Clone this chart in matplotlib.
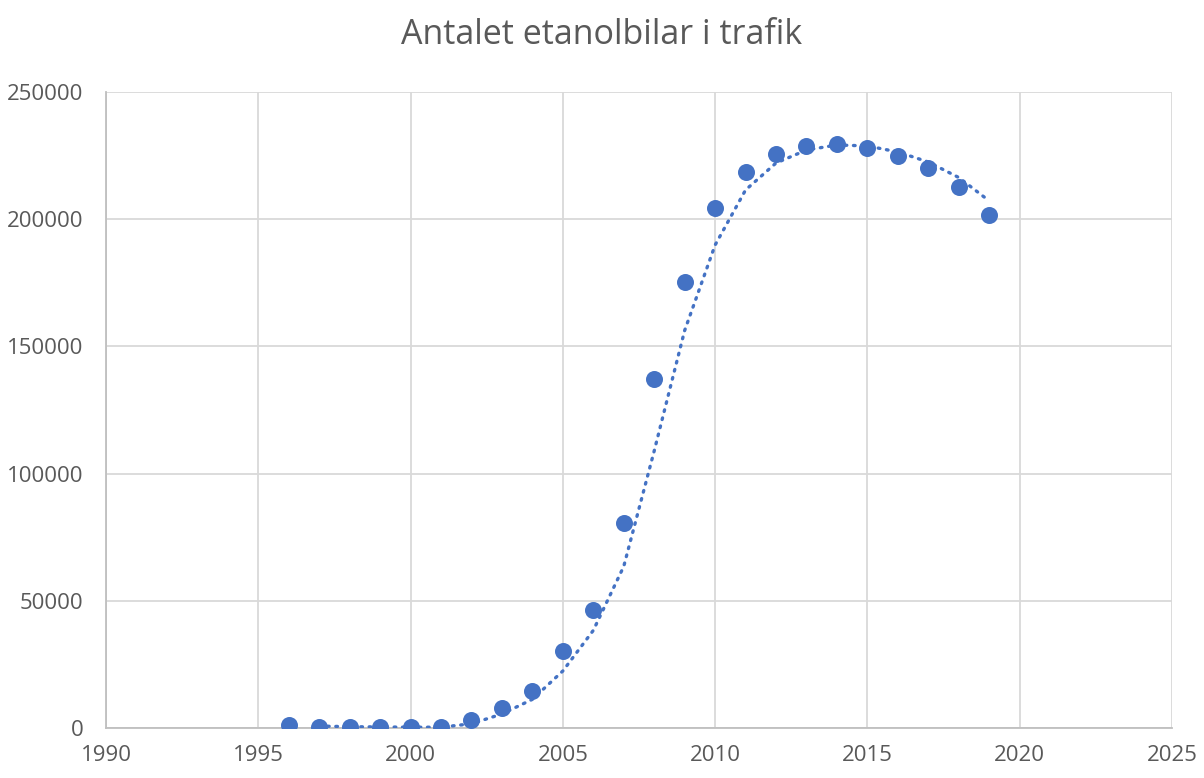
"""
Antalet etanolbilar i trafik, scatter with moving-average trendline.
"""

import numpy as np
import matplotlib
matplotlib.use("Agg")
import matplotlib.pyplot as plt

# Data
years = [1996, 1997, 1998, 1999, 2000, 2001, 2002, 2003, 2004, 2005, 2006,
         2007, 2008, 2009, 2010, 2011, 2012, 2013, 2014, 2015, 2016, 2017,
         2018, 2019]
cars = [1000, 500, 500, 300, 300, 300, 3000, 8000, 14500, 30300, 46400,
        80600, 137200, 175300, 204400, 218600, 225600, 228800, 229600, 228000,
        224900, 220100, 212700, 201700]

x_ticks = [1990, 1995, 2000, 2005, 2010, 2015, 2020, 2025]
y_ticks = [0, 50000, 100000, 150000, 200000, 250000]

blue = "#4472C4"
grid_col = "#D9D9D9"
text_col = "#595959"

plt.rcParams['font.family'] = ['Open Sans', 'DejaVu Sans']

fig = plt.figure(figsize=(12.04, 7.78), dpi=100)
ax = fig.add_axes([0.088, 0.0643, 0.8854, 0.8174])

# moving average trendline (period 2), like Excel's
xs = np.array(years, dtype=float)
ys = np.array(cars, dtype=float)
ma = (ys[1:] + ys[:-1]) / 2
ax.plot(xs[1:], ma, color=blue, linewidth=2.4,
        linestyle=(0, (0.5, 2.0)), dash_capstyle='round', zorder=3)

ax.scatter(years, cars, s=150, color=blue, zorder=4, linewidths=0)

ax.set_xlim(1990, 2025)
ax.set_ylim(0, 250000)
ax.set_xticks(x_ticks)
ax.set_yticks(y_ticks)
ax.grid(True, color=grid_col, linewidth=1.3)
ax.set_axisbelow(True)
for side in ['top', 'right']:
    ax.spines[side].set_visible(False)
for side in ['left', 'bottom']:
    ax.spines[side].set_color("#BFBFBF")
    ax.spines[side].set_linewidth(1.3)
ax.tick_params(length=0, labelsize=16, labelcolor=text_col)
ax.tick_params(axis='y', pad=16)
ax.tick_params(axis='x', pad=12)

fig.text(0.5, 0.955, "Antalet etanolbilar i trafik", ha='center', va='center',
         fontsize=24.5, color=text_col)

fig.savefig("out.png", dpi=100)
